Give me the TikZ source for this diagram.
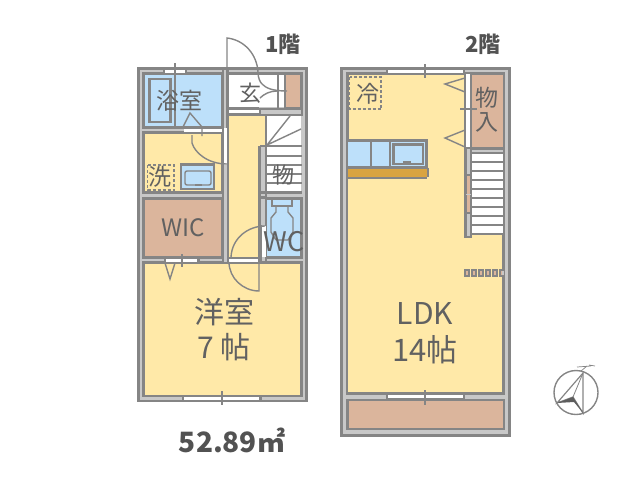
\documentclass[tikz,border=0pt]{standalone}
\usepackage{fontspec}
\setmainfont{Noto Sans CJK JP}
\definecolor{wallc}{HTML}{C8C8C8}
\definecolor{linec}{HTML}{858585}
\definecolor{yel}{HTML}{FFE9A8}
\definecolor{blu}{HTML}{BDE0FA}
\definecolor{tan2}{HTML}{DBB59C}
\definecolor{org}{HTML}{D9A441}
\definecolor{txt}{HTML}{616161}
\tikzset{
  wallbox/.style={draw=linec,line width=2.1pt,fill=wallc},
  room/.style={draw=linec,line width=2.1pt,fill=#1},
  opening/.style={fill=white,draw=none},
  thin line/.style={draw=linec,line width=1.4pt},
  fix/.style={draw=linec,line width=2.1pt},
  lab/.style={text=txt,inner sep=0pt,font=\fontsize{#1}{#1}\selectfont},
  blab/.style={text=txt!85!black,inner sep=0pt,font=\fontsize{#1}{#1}\selectfont\bfseries},
}
\begin{document}
\begin{tikzpicture}[x=1pt,y=-1pt]
\useasboundingbox (0,0) rectangle (640,480);
% ---------- first floor ----------
\draw[wallbox] (138.5,68.5) rectangle (306.5,401);
\fill[white] (228,73) rectangle (302,107);
\draw[room=blu] (143.5,73.5) rectangle (222.5,127.5);
\draw[room=yel] (143.5,132.5) rectangle (222.5,192.5);
\draw[room=tan2] (143.5,198.5) rectangle (222.5,257.5);
\draw[room=yel] (143.5,262.5) rectangle (301.5,396);
\fill[yel] (229,115) rectangle (265,257);
% entrance
\draw[fix] (227,73.5) -- (301.5,73.5) -- (301.5,108);
\draw[fix] (227,108.5) -- (259,108.5);
\draw[fix] (259.5,109) rectangle (301.5,114.5);
\fill[wallc] (260.5,110) rectangle (301,114);
\fill[white] (228,109.5) rectangle (258.5,114.5);
\draw[fix] (228,114.5) -- (259,114.5);
\draw[room=tan2] (285,74) rectangle (301.5,108);
\draw[thin line] (278,74) -- (278,108);
% hall walls
\draw[fix] (227.5,68) -- (227.5,262);
\draw[fix] (223,68) -- (223,262);
\fill[wallc] (223.5,128) rectangle (227,258);
\draw[fix] (228,257.5) -- (265,257.5);
\draw[fix] (228,262.5) -- (265,262.5);
\fill[white] (229,258.5) rectangle (259,261.5);
% wall + stairs
\fill[white] (267,115) rectangle (301,192);
\draw[fix] (266,115) -- (301.5,115);
\draw[wallbox] (260.5,146) rectangle (266,262);
\foreach \y in {146,156,165,174,183,192}{\draw[fix] (266,\y) -- (301.5,\y);}
\draw[thin line] (267,145) -- (290,116) (267,145) -- (301,129);
\draw[fix] (266,115) -- (266,146);
\draw[fix] (260,192.5) -- (301.5,192.5);
\draw[room=blu] (266,198.5) rectangle (301.5,257.5);
\draw[fix] (260,197.5) -- (266,197.5);
\fill[white] (261.5,226) rectangle (265.5,257);
\fill[yel] (229,116) rectangle (259.5,257);
\draw[fix] (259.5,146) -- (259.5,262);
\fill[wallc] (223.5,193) rectangle (227,262);
\fill[wallc] (260.5,147) rectangle (265,225);
\draw[fix] (260,192.5) -- (266,192.5) (260,197.5) -- (266,197.5);
% openings
\fill[opening] (165,69.5) rectangle (186,72.5);
\draw[fix] (164,68) -- (164,73) (186,68) -- (186,73);
\fill[opening] (184,128.5) rectangle (222,131.5);
\fill[opening] (223.5,128) rectangle (227,165);
\fill[opening] (166,258.5) rectangle (198,261.5);
\draw[fix] (165,257) -- (165,262) (198.5,257) -- (198.5,262);
\fill[opening] (184,397) rectangle (260,400);
\draw[fix] (183,396) -- (183,401) (260.5,396) -- (260.5,401);
% tub and bath
\draw[fix] (149.5,79) rectangle (170.5,122);
\draw[thin line] (175,63) -- (175,127);
\draw[thin line] (183,127) -- (190,113) -- (202,127) -- (202,136);
\draw[thin line] (192,135) -- (192,143) .. controls (195,153) and (208,164) .. (227,164);
% door of entrance
\draw[thin line] (227,73) -- (227,38) .. controls (245,40) and (257,55) .. (258,72) .. controls (258,78) and (260,82) .. (262,84);
\draw[thin line] (262,84) .. controls (266,88) and (272,91) .. (287,91);
\draw[thin line] (260,98) .. controls (264,94) and (270,91) .. (277,91);
% wash
\draw[fix,fill=blu] (181,164.5) rectangle (214,189);
\draw[thin line,rounded corners=2pt] (185,171) rectangle (211,185);
\fill[linec] (195,183.5) rectangle (202,186);
\draw[linec,line width=1.6pt,dash pattern=on 3pt off 2pt] (147.5,165) rectangle (174,190);
% WIC door
\draw[thin line] (165,263) -- (170,279) -- (175,263);
\draw[thin line] (182,254) -- (182,267);
% WC door & bedroom door
\draw[thin line] (265,226) .. controls (248,226) and (232,238) .. (231,257);
\draw[thin line] (229,262) .. controls (229,278) and (243,291) .. (259,291) -- (259,262);
% toilet
\draw[thin line] (272,199) -- (272,206) -- (292,206) -- (292,199);
\draw[thin line] (276,206) -- (276,212) -- (271,218) -- (271,232) -- (276,240) (288,206) -- (288,212) -- (293,218) -- (293,232) -- (288,240) -- (276,240);
% bottom window tick
\draw[thin line] (222,391) -- (222,405);
% ---------- second floor ----------
\draw[wallbox] (341.5,68.5) rectangle (509.5,435.5);
\draw[room=yel] (347.5,73.5) rectangle (503.5,393.5);
\draw[room=tan2] (347.5,400) rectangle (504,429);
\fill[yel] (348,148) rectangle (464,392);
\draw[wallbox] (465,73.5) rectangle (471,147.5);
\draw[room=tan2] (471,73.5) rectangle (504,148);
\fill[white] (466.2,74) rectangle (469.8,146.5);
\fill[opening] (388,69.5) rectangle (463,72.5);
\draw[fix] (387,68) -- (387,73) (464,68) -- (464,73);
\fill[opening] (388,395) rectangle (463,398);
\draw[fix] (387,393.5) -- (387,399) (464,393.5) -- (464,399);
\draw[fix] (387,399.5) -- (464,399.5);
\draw[thin line] (425,64) -- (425,78) (425,390) -- (425,405) (460,109) -- (477,109);
\draw[thin line] (465,78) -- (445,84) -- (465,92) (465,130) -- (445,138) -- (465,147);
% fridge
\draw[linec,line width=1.6pt,dash pattern=on 3pt off 2pt] (349.5,77) rectangle (381,109);
% kitchen
\draw[fill=blu,draw=none] (348,141) rectangle (426,167);
\draw[fix] (347,140.5) -- (426.5,140.5) -- (426.5,167);
\draw[fix] (371,140) -- (371,167) (390,140) -- (390,167);
\draw[fix] (393.5,144.5) rectangle (423,164);
\fill[linec] (403,161) rectangle (411,164);
\fill[org] (348,168) rectangle (427,177);
\draw[fix] (347,167.5) -- (428,167.5) (347,178) -- (427,178);
\draw[fix] (428,167.5) -- (428,177);
% stairs and storage
\fill[white] (471,150) rectangle (503,234);
\fill[wallc] (466,148) rectangle (503,152);
\draw[fix] (465,148.5) -- (503,148.5);
\draw[wallbox] (465.5,148) rectangle (471,237);
\draw[fix,fill=tan2] (465.5,175) rectangle (471,213);
\draw[wallc,line width=1pt] (466,194) -- (470.5,194);
\foreach \y in {153,162,171,180,189,198,207,216,225,234}{\draw[fix] (471,\y) -- (503.5,\y);}
% small blocks
\foreach \x in {464,471,478,485,492,499}{\fill[linec] (\x,269) rectangle +(6,8); \fill[tan2] (\x+2,271) rectangle +(2,4);}
\fill[wallc] (502,271) rectangle (504,275);
% compass
\draw[linec,line width=1.4pt] (576,392.5) circle (22);
\draw[linec,line width=1.2pt] (583,373) -- (557,403) -- (573,397) -- (583,413) -- cycle;
\draw[linec,line width=0.8pt] (583,373) -- (573,397);
\fill[linec!70!black] (557,403) -- (573,397) -- (583,413) -- (574,402) -- cycle;
\draw[linec,line width=0.7pt] (577,367) -- (591,366) (581,371) -- (587,366) (589,365) -- (595,366);
% ---------- text ----------
\node[blab=22] (f1) at (283,44) {1階};
\node[blab=22] (f2) at (483,44) {2階};
\node[lab=23] (t1) at (179,101) {浴室};
\node[lab=22] (t2) at (250,93) {玄};
\node[lab=23] (t3) at (160,177) {洗};
\node[lab=22] (t4) at (283,175) {物};
\node[lab=24] (t5) at (183,228) {WIC};
\node[lab=27] (t6) at (284,242) {WC};
\node[lab=30] (t7a) at (224,312) {洋室};
\node[lab=30] (t7b) at (224,347) {7 帖};
\node[lab=23] (t8) at (368,94) {冷};
\node[lab=23] (t9a) at (487,98) {物};
\node[lab=23] (t9b) at (487,122) {入};
\node[lab=30] (t10a) at (425,313) {LDK};
\node[lab=31] (t10b) at (425,350) {14帖};
\node[blab=28] (t11) at (232,440) {52.89㎡};
\end{tikzpicture}
\end{document}
